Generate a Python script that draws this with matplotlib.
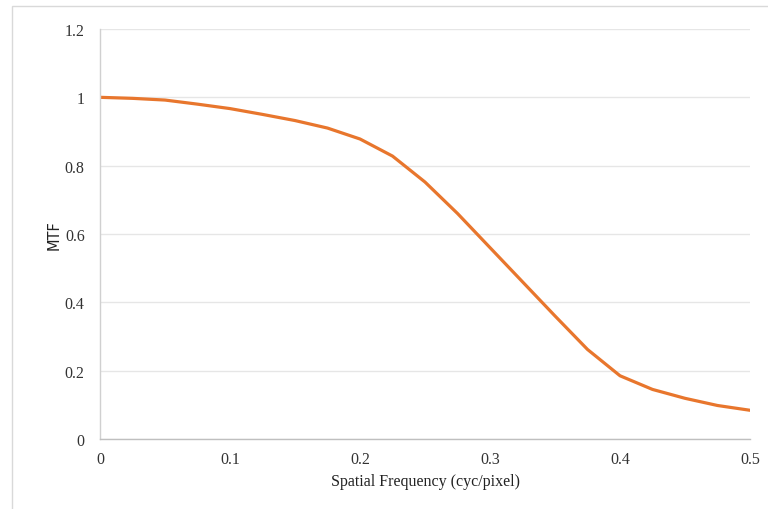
import matplotlib
matplotlib.use("Agg")
import matplotlib.pyplot as plt
from matplotlib.patches import Rectangle

# Modulation transfer function vs. spatial frequency
freq = [0.0, 0.025, 0.05, 0.075, 0.1, 0.125, 0.15, 0.175, 0.2, 0.225, 0.25,
        0.275, 0.3, 0.325, 0.35, 0.375, 0.4, 0.425, 0.45, 0.475, 0.5]
mtf = [1.000, 0.997, 0.992, 0.980, 0.967, 0.950, 0.932, 0.910, 0.878, 0.828, 0.752,
       0.660, 0.560, 0.460, 0.360, 0.262, 0.185, 0.145, 0.119, 0.098, 0.084]

x_ticks = [0, 0.1, 0.2, 0.3, 0.4, 0.5]
x_tick_labels = ["0", "0.1", "0.2", "0.3", "0.4", "0.5"]
y_ticks = [0, 0.2, 0.4, 0.6, 0.8, 1.0, 1.2]
y_tick_labels = ["0", "0.2", "0.4", "0.6", "0.8", "1", "1.2"]

plt.rcParams["font.family"] = ["Liberation Serif", "DejaVu Serif"]

fig = plt.figure(figsize=(7.68, 5.10), dpi=100)
fig.patch.set_facecolor("white")

# chart-area frame
fig.patches.append(Rectangle((0.0156, -0.02), 1.2, 0.986 + 0.02,
                             transform=fig.transFigure, fill=False,
                             edgecolor="#d9d9d9", linewidth=1.0))

ax = fig.add_axes([0.1302, 0.1373, 0.8464, 0.8039])
ax.plot(freq, mtf, color="#E8762D", linewidth=2.3, solid_capstyle="round",
        solid_joinstyle="round")

ax.set_xlim(0, 0.5)
ax.set_ylim(0, 1.2)
ax.set_xticks(x_ticks)
ax.set_xticklabels(x_tick_labels)
ax.set_yticks(y_ticks)
ax.set_yticklabels(y_tick_labels)
ax.tick_params(axis="both", length=0, labelsize=11.5, colors="#333333")
ax.tick_params(axis="y", pad=11)
ax.tick_params(axis="x", pad=9)

ax.grid(axis="y", color="#e6e6e6", linewidth=1.0)
ax.set_axisbelow(True)
for side in ("top", "right"):
    ax.spines[side].set_visible(False)
ax.spines["left"].set_color("#d0d0d0")
ax.spines["bottom"].set_color("#bfbfbf")
ax.spines["left"].set_linewidth(1.0)
ax.spines["bottom"].set_linewidth(1.0)

ax.set_xlabel("Spatial Frequency (cyc/pixel)", fontsize=11.5, color="#222222", labelpad=4)
ax.set_ylabel("MTF", fontsize=10.5, color="#222222", labelpad=2, family=["DejaVu Sans"])

fig.savefig("out.png", dpi=100)
